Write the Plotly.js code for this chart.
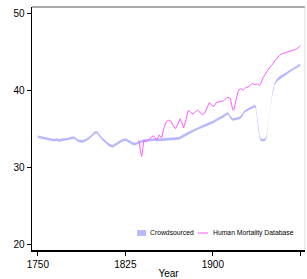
<!DOCTYPE html>
<html>
<head>
<meta charset="utf-8">
<script src="https://cdn.plot.ly/plotly-3.0.1.min.js"></script>
<style>html,body{margin:0;padding:0;background:#fff;}#chart{width:307px;height:279px;}</style>
</head>
<body>
<div id="chart"></div>
<script>
const crowdYears = [1750,1752,1755,1758,1761,1764,1766,1768,1770,1773,1776,1779,1781,1783,1785,1788,1791,1794,1797,1799,1801,1803,1805,1808,1811,1814,1816,1819,1822,1825,1827,1829,1831,1833,1835,1838,1841,1844,1847,1850,1853,1856,1860,1864,1868,1871,1874,1877,1880,1884,1888,1892,1896,1900,1903,1906,1909,1911,1913,1915,1917,1920,1923,1925,1927,1930,1933,1936,1937,1938,1939,1940,1941,1943,1945,1946,1947,1949,1951,1953,1955,1957,1960,1963,1966,1969,1972,1975];
const crowdLow = [33.78,33.73,33.63,33.53,33.43,33.33,33.43,33.28,33.38,33.43,33.48,33.63,33.68,33.43,33.23,33.18,33.33,33.63,34.03,34.33,34.33,33.93,33.53,33.13,32.73,32.53,32.73,33.03,33.28,33.43,33.33,33.13,32.93,32.83,32.93,33.13,33.28,33.33,33.38,33.43,33.38,33.43,33.43,33.48,33.53,33.58,33.83,34.03,34.33,34.63,34.93,35.23,35.43,35.68,35.93,36.23,36.43,36.68,36.83,36.33,36.03,36.08,36.23,36.53,37.03,37.33,37.58,37.78,37.53,36.33,34.83,33.83,33.43,33.33,33.43,33.83,34.83,37.33,39.33,40.63,41.13,41.43,41.73,42.03,42.33,42.63,42.93,43.13];
const crowdHigh = [34.12,34.07,33.97,33.87,33.77,33.67,33.77,33.62,33.72,33.77,33.82,33.97,34.02,33.77,33.57,33.52,33.67,33.97,34.37,34.67,34.67,34.27,33.87,33.47,33.07,32.87,33.07,33.37,33.62,33.77,33.67,33.47,33.27,33.17,33.27,33.47,33.62,33.67,33.72,33.77,33.72,33.77,33.77,33.82,33.87,33.92,34.17,34.37,34.67,34.97,35.27,35.57,35.77,36.02,36.27,36.57,36.77,37.02,37.17,36.67,36.37,36.42,36.57,36.87,37.37,37.67,37.92,38.12,37.87,36.67,35.17,34.17,33.77,33.67,33.77,34.17,35.17,37.67,39.67,40.97,41.47,41.77,42.07,42.37,42.67,42.97,43.27,43.47];

const hmdYears = [1836,1837,1838,1839,1840,1841,1843,1845,1847,1849,1850,1852,1854,1856,1858,1860,1862,1864,1866,1868,1870,1872,1874,1875,1877,1879,1881,1883,1885,1887,1889,1891,1893,1895,1897,1899,1901,1903,1905,1907,1909,1911,1913,1915,1916,1917,1918,1919,1920,1922,1924,1926,1928,1930,1932,1934,1936,1938,1940,1941,1943,1945,1947,1949,1951,1953,1955,1957,1959,1961,1963,1965,1967,1969,1971,1973,1975];
const hmdValues = [33.5,33.3,32.0,31.4,32.5,33.5,33.3,33.6,33.8,34.1,33.9,33.5,34.2,33.8,35.0,35.9,36.1,36.0,35.4,35.0,35.6,36.3,35.6,35.1,36.2,37.4,37.1,36.9,37.2,37.4,37.1,36.8,37.0,37.8,38.4,38.0,37.9,38.4,38.5,38.5,38.6,38.9,39.1,38.9,38.3,37.5,37.4,38.2,38.8,40.0,40.2,40.0,40.3,40.4,40.7,40.9,40.7,40.8,40.6,40.8,41.6,42.2,42.6,43.0,43.3,43.8,44.2,44.5,44.7,44.8,44.9,44.95,45.0,45.1,45.3,45.5,45.8];

const xTicks = [1750,1825,1900,1975];
const yTicks = [20,30,40,50];
const seriesNames = ['Crowdsourced', 'Human Mortality Database'];

const blue = 'rgba(160,160,255,0.75)';
const pink = '#ff5cff';

const ribbonX = crowdYears.concat(crowdYears.slice().reverse());
const ribbonY = crowdHigh.concat(crowdLow.slice().reverse());

const traces = [
  {x: ribbonX, y: ribbonY, type: 'scatter', mode: 'lines', fill: 'toself',
   fillcolor: blue, line: {width: 0, color: blue},
   name: seriesNames[0], hoverinfo: 'skip', showlegend: false},
  {x: hmdYears, y: hmdValues, type: 'scatter', mode: 'lines',
   line: {color: pink, width: 1}, name: seriesNames[1], showlegend: false}
];

const fam = '"Liberation Sans", Arial, sans-serif';
const font = {family: fam, size: 10, color: '#000'};
const legFont = {family: fam, size: 6.8, color: '#000'};

const layout = {
  width: 307, height: 279,
  margin: {l: 32, r: 2, t: 7, b: 29, pad: 0},
  paper_bgcolor: '#fff', plot_bgcolor: '#fff',
  font: font,
  showlegend: false,
  xaxis: {range: [1745, 1979], tickvals: xTicks, ticktext: xTicks.map(String),
          showgrid: false, zeroline: false, showline: true, linecolor: '#000', linewidth: 1.5,
          ticks: 'outside', ticklen: 4, tickcolor: '#000', tickwidth: 1,
          tickfont: font, title: {text: 'Year', font: font, standoff: 3}, automargin: false},
  yaxis: {range: [19.25, 50.8], tickvals: yTicks, ticktext: yTicks.map(String),
          showgrid: false, zeroline: false, showline: true, linecolor: '#000', linewidth: 1.5,
          ticks: 'outside', ticklen: 4, tickcolor: '#000', tickwidth: 1,
          tickfont: font, automargin: false},
  shapes: [
    {type: 'line', xref: 'paper', yref: 'paper', x0: 0, x1: 1, y0: 1, y1: 1, line: {color: '#555', width: 1}},
    {type: 'line', xref: 'paper', yref: 'paper', x0: 1, x1: 1, y0: 0, y1: 1, line: {color: '#ddd', width: 1}},
    {type: 'rect', xref: 'paper', yref: 'paper', x0: 0.385, x1: 0.418, y0: 0.058, y1: 0.082,
     fillcolor: blue, line: {width: 0}},
    {type: 'line', xref: 'paper', yref: 'paper', x0: 0.608, x1: 0.645, y0: 0.07, y1: 0.07,
     line: {color: pink, width: 1}}
  ],
  annotations: [
    {xref: 'paper', yref: 'paper', x: 0.425, y: 0.07, xanchor: 'left', yanchor: 'middle',
     text: seriesNames[0], showarrow: false, font: legFont},
    {xref: 'paper', yref: 'paper', x: 0.656, y: 0.07, xanchor: 'left', yanchor: 'middle',
     text: seriesNames[1], showarrow: false, font: legFont}
  ]
};

Plotly.newPlot('chart', traces, layout, {displayModeBar: false, staticPlot: true});
</script>
</body>
</html>
